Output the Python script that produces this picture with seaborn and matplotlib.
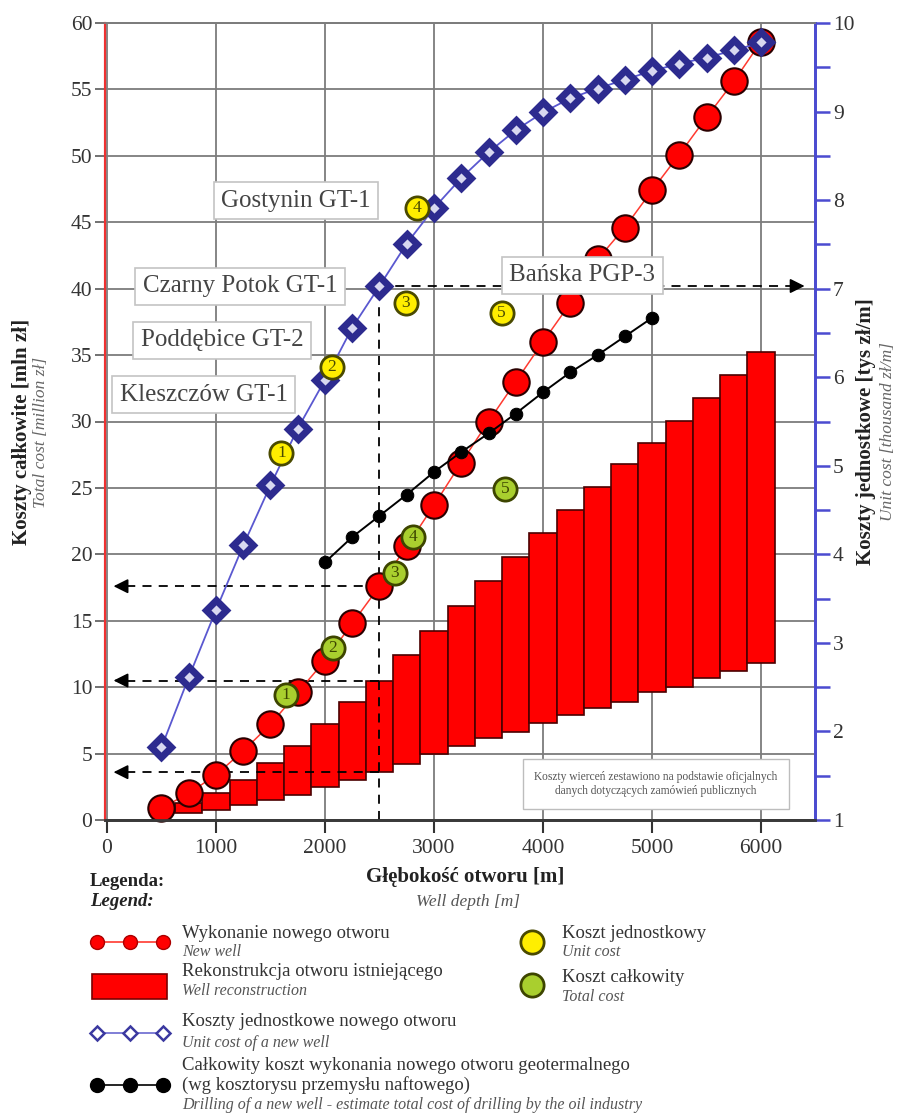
import numpy as np
import pandas as pd
import matplotlib
matplotlib.use("Agg")
import matplotlib.pyplot as plt
import seaborn as sns

# ---------------- data ----------------
depth_new = [500, 750, 1000, 1250, 1500, 1750, 2000, 2250, 2500, 2750, 3000, 3250,
             3500, 3750, 4000, 4250, 4500, 4750, 5000, 5250, 5500, 5750, 6000]
cost_new = [0.9, 2.0, 3.4, 5.2, 7.2, 9.6, 12.0, 14.8, 17.6, 20.6, 23.7, 26.9,
            30.0, 33.0, 36.0, 38.9, 42.2, 44.6, 47.4, 50.1, 52.9, 55.6, 58.6]
unit_new = [1.82, 2.61, 3.37, 4.10, 4.78, 5.42, 5.97, 6.56, 7.03, 7.51, 7.91, 8.25,
            8.54, 8.79, 8.99, 9.15, 9.26, 9.36, 9.46, 9.54, 9.61, 9.69, 9.78]

depth_oil = [2000, 2250, 2500, 2750, 3000, 3250, 3500, 3750, 4000, 4250, 4500, 4750, 5000]
cost_oil = [19.4, 21.3, 22.9, 24.5, 26.2, 27.7, 29.1, 30.6, 32.2, 33.7, 35.0, 36.4, 37.8]

depth_rec = [750, 1000, 1250, 1500, 1750, 2000, 2250, 2500, 2750, 3000, 3250,
             3500, 3750, 4000, 4250, 4500, 4750, 5000, 5250, 5500, 5750, 6000]
rec_top = [1.3, 2.0, 3.0, 4.3, 5.6, 7.2, 8.9, 10.5, 12.4, 14.2, 16.1,
           18.0, 19.8, 21.6, 23.3, 25.1, 26.8, 28.4, 30.0, 31.8, 33.5, 35.2]
rec_bottom = [0.5, 0.75, 1.1, 1.5, 1.9, 2.5, 3.0, 3.6, 4.2, 5.0, 5.6,
              6.2, 6.6, 7.3, 7.9, 8.4, 8.9, 9.6, 10.0, 10.7, 11.2, 11.8]

well_ids = ["1", "2", "3", "4", "5"]
well_unit_depth = [1600, 2060, 2740, 2840, 3620]
well_unit_cost = [5.14, 6.11, 6.84, 7.91, 6.73]
well_total_depth = [1640, 2070, 2640, 2810, 3650]
well_total_cost = [9.4, 12.95, 18.6, 21.3, 24.9]

well_names = ["Gostynin GT-1", "Czarny Potok GT-1", "Poddębice GT-2",
              "Kleszczów GT-1", "Bańska PGP-3"]
ref_depth = 2500

# ---------------- style ----------------
sns.set_style("white")
plt.rcParams["font.family"] = ["Liberation Serif", "DejaVu Serif"]

W, H = 900, 1117
fig = plt.figure(figsize=(W / 100, H / 100), dpi=100)
ax = fig.add_axes([105 / W, 1 - 820 / H, 710 / W, 797 / H])
ax2 = ax.twinx()

RED = "#ff0000"
BLUE_EDGE = "#2d2b8f"
GRID = "#7c7c7c"

# floating bars – well reconstruction
heights = np.subtract(rec_top, rec_bottom)
ax.bar(depth_rec, heights, bottom=rec_bottom, width=250, color=RED,
       edgecolor="#4a0000", linewidth=1.2, zorder=2)

# new well total cost (red circles)
sns.lineplot(x=depth_new, y=cost_new, ax=ax, color="#ff3a30", linewidth=1.1,
             marker="o", markersize=19, markerfacecolor=RED,
             markeredgecolor="#2a0000", markeredgewidth=1.5, zorder=5, clip_on=False)

# oil industry estimate (black dots)
sns.lineplot(x=depth_oil, y=cost_oil, ax=ax, color="black", linewidth=1.4,
             marker="o", markersize=9, markeredgecolor="black", zorder=6)

# total cost of actual wells (green)
sns.scatterplot(x=well_total_depth, y=well_total_cost, ax=ax, s=280,
                color="#a9cf2e", edgecolor="#3d4500", linewidth=2, zorder=7)
for d, v, t in zip(well_total_depth, well_total_cost, well_ids):
    ax.text(d, v, t, ha="center", va="center", fontsize=12.5, color="#3d4500", zorder=8)

# unit cost of new well (blue diamonds) on right axis
sns.lineplot(x=depth_new, y=unit_new, ax=ax2, color="#5a58d0", linewidth=1.3,
             marker="D", markersize=10.5, markerfacecolor="#d8d8f0",
             markeredgecolor=BLUE_EDGE, markeredgewidth=5, zorder=5)

# unit cost of actual wells (yellow)
sns.scatterplot(x=well_unit_depth, y=well_unit_cost, ax=ax2, s=280,
                color="#ffee00", edgecolor="#4a4a00", linewidth=2, zorder=7)
for d, v, t in zip(well_unit_depth, well_unit_cost, well_ids):
    ax2.text(d, v, t, ha="center", va="center", fontsize=12.5, color="#4a4a00", zorder=8)

# limits
ax.set_xlim(-18, 6495)
ax.set_ylim(0, 60)
ax2.set_ylim(1, 10)

# reference dashed lines at 2500 m
i_new = depth_new.index(ref_depth)
i_rec = depth_rec.index(ref_depth)
u_ref = unit_new[i_new]
u_ref_left = (u_ref - 1) / 9 * 60
dash = dict(color="black", linewidth=1.3, linestyle=(0, (5, 4)), zorder=4)
ax.plot([ref_depth, ref_depth], [0, u_ref_left], **dash)
ax.plot([ref_depth, 6330], [u_ref_left, u_ref_left], **dash)
ax.annotate("", xy=(6425, u_ref_left), xytext=(6300, u_ref_left),
            arrowprops=dict(arrowstyle="-|>", color="black", lw=1.2, mutation_scale=22),
            zorder=4)
for yv in [cost_new[i_new], rec_top[i_rec], rec_bottom[i_rec]]:
    ax.plot([ref_depth, 150], [yv, yv], **dash)
    ax.annotate("", xy=(35, yv), xytext=(160, yv),
                arrowprops=dict(arrowstyle="-|>", color="black", lw=1.2, mutation_scale=22),
                zorder=4)

# well name labels
label_pos = [(1734, 46.6), (1220, 40.2), (1055, 36.1), (890, 32.0), (4358, 41.0)]
for name, (px, py) in zip(well_names, label_pos):
    ax2.text(px, py, name, transform=ax.transData, ha="center", va="center",
             fontsize=18, color="#444444", zorder=20,
             bbox=dict(boxstyle="square,pad=0.3", fc="white", ec="#c4c4c4", lw=1.2))

ax2.text(5037, 2.7, "Koszty wierceń zestawiono na podstawie oficjalnych\n"
         "danych dotyczących zamówień publicznych", transform=ax.transData,
         ha="center", va="center", fontsize=8.3, color="#555555", zorder=20,
         linespacing=1.3,
         bbox=dict(boxstyle="square,pad=1.0", fc="white", ec="#bdbdbd", lw=1))

# axes styling
ax.set_xticks(range(0, 7000, 1000))
ax.set_yticks(range(0, 65, 5))
ax.grid(True, color=GRID, linewidth=1.3)
ax.set_axisbelow(True)
ax.set_xlabel("")
ax.set_ylabel("")
ax2.set_xlabel("")
ax2.set_ylabel("")
ax2.set_yticks(range(1, 11))
ax2.set_yticks(np.arange(1.5, 10, 1), minor=True)

ax.tick_params(axis="x", direction="out", length=9, width=1.5, color="#333333",
               labelsize=15.5, labelcolor="#333333", pad=5, bottom=True)
ax.tick_params(axis="y", direction="out", length=7, width=1.3, color="#666666",
               labelsize=15.5, labelcolor="#333333", pad=2, left=True)
ax2.tick_params(axis="y", which="both", direction="out", length=11, width=1.8,
                color="#4b4bd0", labelsize=15.5, labelcolor="#333333", pad=2, right=True)

for a in (ax, ax2):
    a.spines["left"].set_color("#ee3030")
    a.spines["left"].set_linewidth(1.5)
    a.spines["right"].set_color("#4b4bd0")
    a.spines["right"].set_linewidth(2)
    a.spines["bottom"].set_color("#3a3a3a")
    a.spines["bottom"].set_linewidth(2)
    a.spines["top"].set_color(GRID)
    a.spines["top"].set_linewidth(1.3)
    for s in ("left", "right", "top", "bottom"):
        a.spines[s].set_visible(True)

# axis titles
def fx(px):
    return px / W

def fy(py):
    return 1 - py / H

fig.text(fx(465), fy(877), "Głębokość otworu [m]", ha="center", va="center",
         fontsize=15, fontweight="bold", color="#222222")
fig.text(fx(468), fy(902), "Well depth [m]", ha="center", va="center",
         fontsize=12.5, style="italic", color="#555555")
fig.text(fx(22), fy(432), "Koszty całkowite [mln zł]", ha="center", va="center",
         rotation=90, fontsize=15, fontweight="bold", color="#222222")
fig.text(fx(41), fy(432), "Total cost [million zł]", ha="center", va="center",
         rotation=90, fontsize=12.5, style="italic", color="#666666")
fig.text(fx(866), fy(432), "Koszty jednostkowe [tys zł/m]", ha="center", va="center",
         rotation=90, fontsize=15, fontweight="bold", color="#222222")
fig.text(fx(888), fy(432), "Unit cost [thousand zł/m]", ha="center", va="center",
         rotation=90, fontsize=12.5, style="italic", color="#666666")

# ---------------- legend ----------------
lax = fig.add_axes([0, 0, 1, 1])
lax.set_xlim(0, W)
lax.set_ylim(H, 0)
lax.axis("off")

lax.text(90, 881, "Legenda:", ha="left", va="center", fontsize=13.5,
         fontweight="bold", color="#222222")
lax.text(90, 902, "Legend:", ha="left", va="center", fontsize=13.5,
         fontweight="bold", style="italic", color="#222222")

hx = [97, 130, 163]
lax.plot(hx, [942] * 3, color="#ff3a30", lw=1.2, marker="o", ms=10,
         mfc=RED, mec="#aa0000", mew=1)
lax.add_patch(plt.Rectangle((92, 974), 75, 25, fc=RED, ec="#7a0000", lw=1.2))
lax.plot(hx, [1033] * 3, color="#6a68d0", lw=1.2, marker="D", ms=7,
         mfc="white", mec="#3b39a0", mew=1.8)
lax.plot(hx, [1085] * 3, color="black", lw=1.2, marker="o", ms=10, mfc="black", mec="black")
lax.scatter([532], [942], s=280, c="#ffee00", edgecolors="#4a4a00", linewidths=2, zorder=3)
lax.scatter([532], [985], s=280, c="#a9cf2e", edgecolors="#3d4500", linewidths=2, zorder=3)

main_kw = dict(ha="left", va="center", fontsize=13.5, color="#333333")
it_kw = dict(ha="left", va="center", fontsize=11.5, style="italic", color="#555555")
lax.text(182, 933, "Wykonanie nowego otworu", **main_kw)
lax.text(182, 952, "New well", **it_kw)
lax.text(182, 971, "Rekonstrukcja otworu istniejącego", **main_kw)
lax.text(182, 991, "Well reconstruction", **it_kw)
lax.text(182, 1022, "Koszty jednostkowe nowego otworu", **main_kw)
lax.text(182, 1043, "Unit cost of a new well", **it_kw)
lax.text(182, 1065, "Całkowity koszt wykonania nowego otworu geotermalnego", **main_kw)
lax.text(182, 1085, "(wg kosztorysu przemysłu naftowego)", **main_kw)
lax.text(182, 1105, "Drilling of a new well - estimate total cost of drilling by the oil industry", **it_kw)
lax.text(562, 933, "Koszt jednostkowy", **main_kw)
lax.text(562, 952, "Unit cost", **it_kw)
lax.text(562, 977, "Koszt całkowity", **main_kw)
lax.text(562, 997, "Total cost", **it_kw)

fig.savefig("out.png", dpi=100, facecolor="white")
